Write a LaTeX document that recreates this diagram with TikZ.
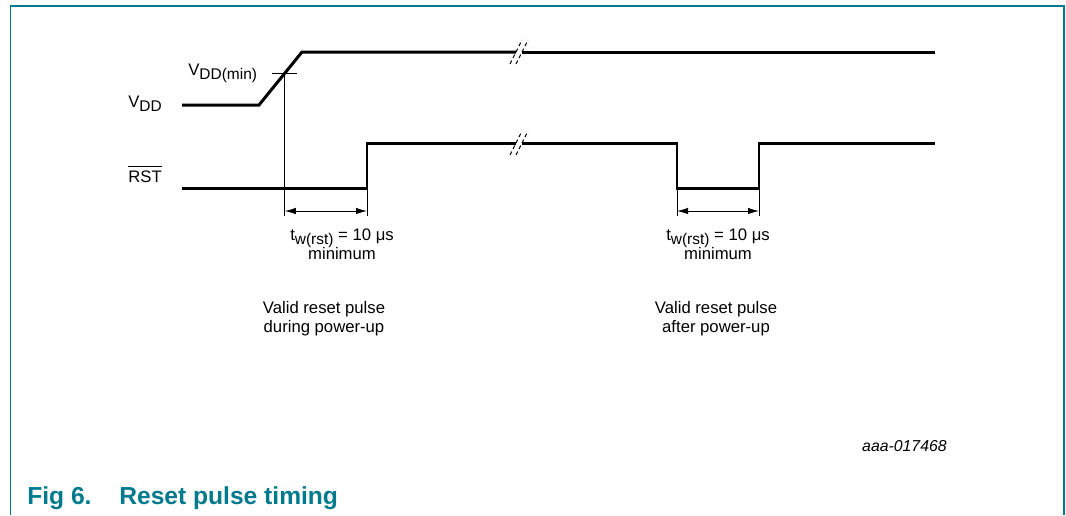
\documentclass[tikz,border=0pt]{standalone}
\usepackage{fontspec}
\setmainfont{Liberation Sans}
\usepackage{tikz}
\usetikzlibrary{arrows.meta,positioning,calc}
\usepackage{xcolor}

\definecolor{nxpteal}{HTML}{007A8C}
\newcommand{\lowidx}[1]{\raisebox{-2.6pt}{\fontsize{8.8}{10}\selectfont #1}}

\begin{document}
\begin{tikzpicture}[
  x=0.02cm, y=-0.02cm,
  signal/.style={line width=1.7pt, line join=miter},
  guide/.style={line width=0.5pt},
  dimline/.style={line width=0.5pt, {Latex[length=2.2mm,width=1.3mm]}-{Latex[length=2.2mm,width=1.3mm]}},
  breakmark/.style={line width=0.6pt, dash pattern=on 2.2pt off 1.6pt},
  sig_lbl/.style={font=\fontsize{9.5}{11}\selectfont, inner sep=0pt, anchor=base west},
  note_lbl/.style={font=\fontsize{9.5}{11}\selectfont, inner sep=0pt, anchor=base},
  title_lbl/.style={font=\fontsize{14}{16}\selectfont\bfseries, text=nxpteal, inner sep=0pt, anchor=base west},
  frame_line/.style={draw=nxpteal, line width=1pt}
]
\useasboundingbox (0,0) rectangle (1066,515);

% Figure frame (open at the bottom)
\draw[frame_line] (10.5,515) -- (10.5,6) -- (1064,6) -- (1064,515);

% Signal names
\node[sig_lbl] (vdd) at (128,107) {V\lowidx{DD}};
\node[sig_lbl] (rst) at (128,182) {RST};
\draw[line width=0.6pt] ([yshift=2.2pt]rst.north west) -- ([yshift=2.2pt]rst.north east);

% VDD waveform
\coordinate (vdd_start) at (182,105);
\coordinate (vdd_ramp) at (259,105);
\coordinate (vdd_top) at (302,52);
\coordinate (vdd_brk) at (516,52);
\coordinate (vdd_cont) at (522,52);
\coordinate (vdd_end) at (935,52);
\draw[signal] (vdd_start) -- (vdd_ramp) -- (vdd_top) -- (vdd_brk);
\draw[signal] (vdd_cont) -- (vdd_end);
\draw[breakmark] ([shift={(-6,12)}]vdd_brk) -- ([shift={(6,-12)}]vdd_brk);
\draw[breakmark] ([shift={(-6,12)}]vdd_cont) -- ([shift={(6,-12)}]vdd_cont);

% VDD(min) threshold
\coordinate (vmin) at ($(vdd_ramp)!0.6!(vdd_top)$);
\node[sig_lbl] (vmin_lbl) at (188,75) {V\lowidx{DD(min)}};
\draw[guide] ([shift={(-13,0)}]vmin) -- ([shift={(12,0)}]vmin);

% RST waveform
\coordinate (rst_start) at (182,188);
\coordinate (rst_up1) at (367,188);
\coordinate (rst_hi1) at (367,143);
\coordinate (rst_brk) at (516,143);
\coordinate (rst_cont) at (522,143);
\coordinate (rst_dn) at (677,143);
\coordinate (rst_lo2) at (677,188);
\coordinate (rst_up2) at (759,188);
\coordinate (rst_hi2) at (759,143);
\coordinate (rst_end) at (935,143);
\draw[signal] (rst_start) -- (rst_up1) -- (rst_hi1) -- (rst_brk);
\draw[signal] (rst_cont) -- (rst_dn) -- (rst_lo2) -- (rst_up2) -- (rst_hi2) -- (rst_end);
\draw[breakmark] ([shift={(-6,12)}]rst_brk) -- ([shift={(6,-12)}]rst_brk);
\draw[breakmark] ([shift={(-6,12)}]rst_cont) -- ([shift={(6,-12)}]rst_cont);

% Pulse width dimensions
\coordinate (dim_lvl) at (0,211);
\coordinate (ext_lvl) at (0,216);
\draw[guide] (vmin) -- (vmin |- ext_lvl);
\draw[guide] (rst_up1) -- (rst_up1 |- ext_lvl);
\draw[dimline] (vmin |- dim_lvl) -- (rst_up1 |- dim_lvl);
\draw[guide] (rst_lo2) -- (rst_lo2 |- ext_lvl);
\draw[guide] (rst_up2) -- (rst_up2 |- ext_lvl);
\draw[dimline] (rst_lo2 |- dim_lvl) -- (rst_up2 |- dim_lvl);

% Timing notes
\node[note_lbl] (tw1) at (342,240) {t\lowidx{w(rst)} = 10 μs};
\node[note_lbl] (min1) at (342,259) {minimum};
\node[note_lbl] (tw2) at (718,240) {t\lowidx{w(rst)} = 10 μs};
\node[note_lbl] (min2) at (718,259) {minimum};

% Pulse descriptions
\node[note_lbl] (desc1a) at (324,313) {Valid reset pulse};
\node[note_lbl] (desc1b) at (324,332) {during power-up};
\node[note_lbl] (desc2a) at (716,313) {Valid reset pulse};
\node[note_lbl] (desc2b) at (716,332) {after power-up};

% Drawing id and caption
\node[font=\fontsize{9}{11}\selectfont\itshape, inner sep=0pt, anchor=base east] (fig_id) at (947,451) {aaa-017468};
\node[title_lbl] (fig_no) at (27,504) {Fig 6.};
\node[title_lbl] (fig_title) at (119,504) {Reset pulse timing};

\end{tikzpicture}
\end{document}
